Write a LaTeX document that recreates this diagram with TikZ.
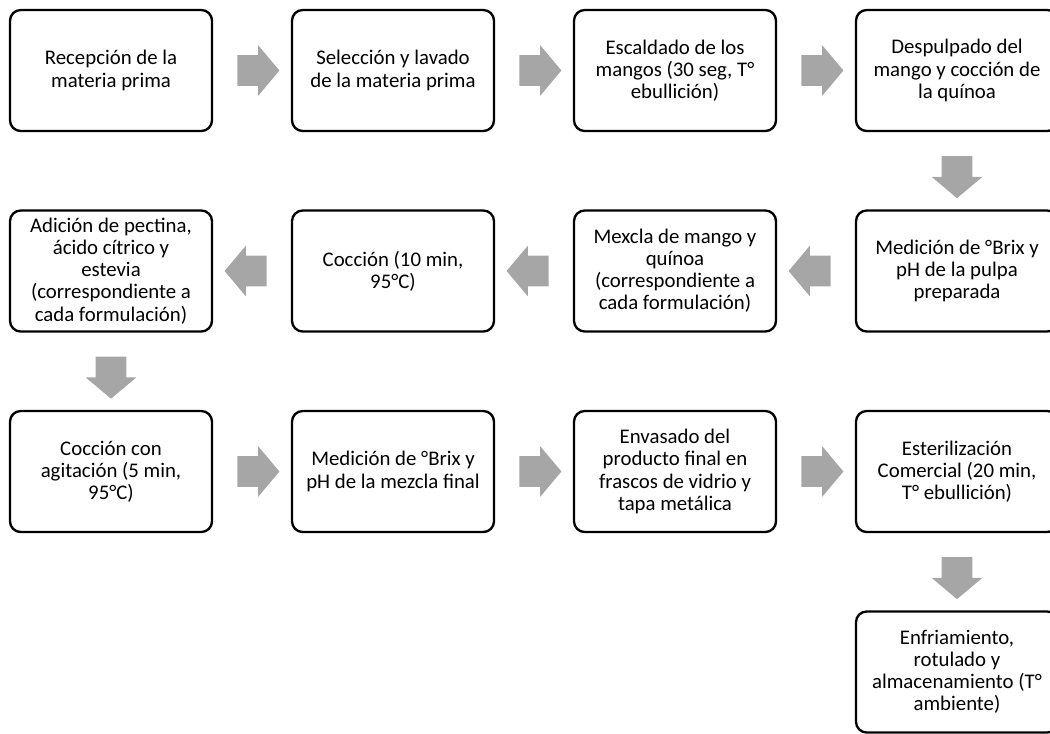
\documentclass[tikz,border=0pt]{standalone}
\usepackage{fontspec}
\setmainfont{Carlito}
\usetikzlibrary{shapes.arrows}

\begin{document}
\begin{tikzpicture}[x=0.75pt, y=-0.75pt, font=\fontsize{15.6}{16.6}\selectfont,
  bx/.style={draw=black, line width=1.75pt, rounded corners=8pt, fill=white,
             align=center, inner sep=2pt, minimum width=151.5pt, minimum height=90.75pt},
  blk/.style={single arrow, fill=black!35, draw=none, minimum height=31.5pt,
              single arrow head extend=7.5pt, single arrow tip angle=100},
  rarr/.style={blk, inner xsep=0pt, inner ysep=11.25pt, shape border rotate=0},
  larr/.style={blk, inner xsep=0pt, inner ysep=11.25pt, shape border rotate=180},
  darr/.style={blk, inner xsep=11.25pt, inner ysep=0pt, shape border rotate=270}]
\useasboundingbox (0,0) rectangle (1050,733);
% first row, left to right
\node[bx] (rec)  at (111,70.5) {Recepción de la\\materia prima};
\node[bx] (sel)  at (393,70.5) {Selección y lavado\\de la materia prima};
\node[bx] (esc)  at (675,70.5) {Escaldado de los\\mangos (30 seg, T°\\ebullición)};
\node[bx] (desp) at (957,70.5) {Despulpado del\\mango y cocción de\\la quínoa};
% second row, right to left
\node[bx] (medp) at (957,271) {Medición de °Brix y\\pH de la pulpa\\preparada};
\node[bx] (mez)  at (675,271) {Mexcla de mango y\\quínoa\\(correspondiente a\\cada formulación)};
\node[bx] (coc)  at (393,271) {Cocción (10 min,\\95°C)};
\node[bx] (adi)  at (111,271) {Adición de pectina,\\ácido cítrico y\\estevia\\(correspondiente a\\cada formulación)};
% third row, left to right
\node[bx] (cocag) at (111,471.5) {Cocción con\\agitación (5 min,\\95°C)};
\node[bx] (medm)  at (393,471.5) {Medición de °Brix y\\pH de la mezcla final};
\node[bx] (env)   at (675,471.5) {Envasado del\\producto final en\\frascos de vidrio y\\tapa metálica};
\node[bx] (est)   at (957,471.5) {Esterilización\\Comercial (20 min,\\T° ebullición)};
% last step
\node[bx] (enf) at (957,672) {Enfriamiento,\\rotulado y\\almacenamiento (T°\\ambiente)};
% block arrows between steps
\path (rec)--node[rarr]{}(sel); \path (sel)--node[rarr]{}(esc); \path (esc)--node[rarr]{}(desp);
\path (desp)--node[darr]{}(medp);
\path (medp)--node[larr]{}(mez); \path (mez)--node[larr]{}(coc); \path (coc)--node[larr]{}(adi);
\path (adi)--node[darr]{}(cocag);
\path (cocag)--node[rarr]{}(medm); \path (medm)--node[rarr]{}(env); \path (env)--node[rarr]{}(est);
\path (est)--node[darr]{}(enf);
\end{tikzpicture}
\end{document}
